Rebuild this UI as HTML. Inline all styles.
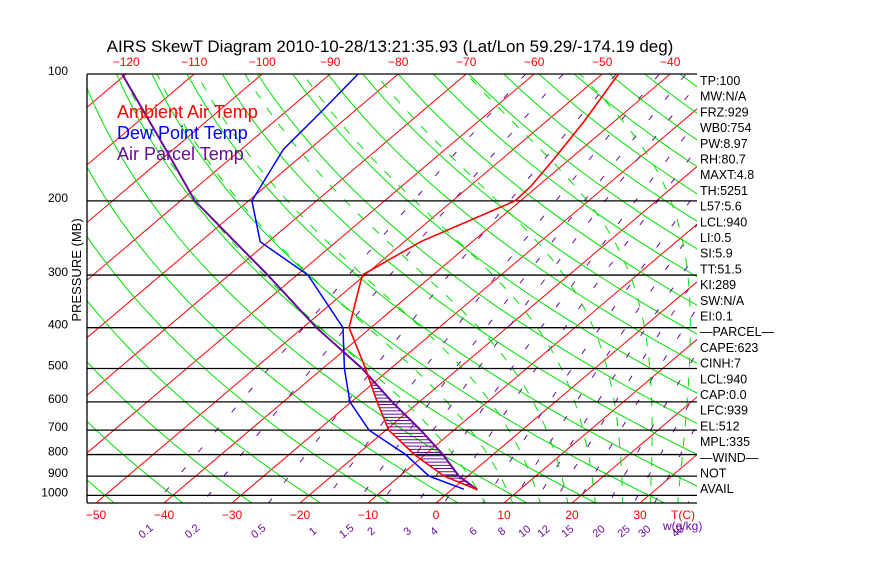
<!DOCTYPE html>
<html><head><meta charset="utf-8"><style>
body{margin:0;background:#fff;}
svg text{font-family:"Liberation Sans",sans-serif;}
</style></head><body>
<svg id="c" width="870" height="560" xmlns="http://www.w3.org/2000/svg">
<defs><clipPath id="pc"><rect x="87" y="74" width="610" height="429"/></clipPath></defs>
<rect width="870" height="560" fill="#fff"/>
<text x="390" y="52" font-size="17" text-anchor="middle">AIRS SkewT Diagram 2010-10-28/13:21:35.93 (Lat/Lon 59.29/-174.19 deg)</text>
<g id="bg" clip-path="url(#pc)"></g>
<g id="axes"></g>
<g id="series" clip-path="url(#pc)"></g>
<g id="labels"></g>
<text x="117" y="118" font-size="18" fill="#ff0000">Ambient Air Temp</text>
<text x="117" y="139" font-size="18" fill="#0000ff">Dew Point Temp</text>
<text x="117" y="160" font-size="18" fill="#6a0a9a">Air Parcel Temp</text>
<text transform="translate(81,270) rotate(-90)" font-size="13" text-anchor="middle">PRESSURE (MB)</text>
</svg>
<script>
// ---- data ----
const tempP = [100,130,160,185,200,250,300,400,500,600,700,800,900,970];
const tempT = [-47.6,-44.4,-42.3,-41.0,-40.8,-47.6,-50.4,-43.2,-33.7,-26.2,-19.6,-11.6,-3.5,3.8];
const dewP = [100,122,151,200,250,300,400,500,600,700,800,900,967];
const dewT = [-85.9,-84.8,-83.8,-79.5,-71.2,-58.4,-44.1,-36.8,-30.2,-22.5,-12.9,-5.7,1.7];
const parcelP = [100,151,200,300,400,500,600,700,800,900,970];
const parcelT = [-120.6,-101.1,-87.9,-64.3,-48.0,-34.2,-24.0,-14.9,-7.4,-1.3,3.8];
const pressureTicks = [100,200,300,400,500,600,700,800,900,1000];
const bottomTempTicks = [-50,-40,-30,-20,-10,0,10,20,30];
const topTempTicks = [-120,-110,-100,-90,-80,-70,-60,-50,-40];
const mixRatios = [0.1,0.2,0.5,1,1.5,2,3,4,6,8,10,12,15,20,25,30,40];
const mixLabels = ["0.1","0.2","0.5","1","1.5","2","3","4","6","8","10","12","15","20","25","30","40"];
const sideLabels = ["TP:100","MW:N/A","FRZ:929","WB0:754","PW:8.97","RH:80.7","MAXT:4.8","TH:5251","L57:5.6","LCL:940","LI:0.5","SI:5.9","TT:51.5","KI:289","SW:N/A","EI:0.1","\u2014PARCEL\u2014","CAPE:623","CINH:7","LCL:940","CAP:0.0","LFC:939","EL:512","MPL:335","\u2014WIND\u2014"," NOT","AVAIL"];
// ---- axis functions ----
const X0=87,X1=697,Y0=74,Y1=503;
function yP(p){return 74+183*Math.log(p/100);}
function xT(T,y){return 436+6.8*T+1.18*(503-y);}
function pt(T,p){const y=yP(p);return [xT(T,y),y];}
const NS="http://www.w3.org/2000/svg";
function mk(tag,attrs,parent){const e=document.createElementNS(NS,tag);for(const k in attrs)e.setAttribute(k,attrs[k]);parent.appendChild(e);return e;}
const bg=document.getElementById('bg'),axes=document.getElementById('axes'),ser=document.getElementById('series'),lab=document.getElementById('labels');
const pList=[];for(let p=90;p<=1060;p+=10)pList.push(p);
function poly(pts,stroke,w,dash,parent,name){
  const e=mk('polyline',{points:pts.map(a=>a[0].toFixed(1)+','+a[1].toFixed(1)).join(' '),fill:'none',stroke:stroke,'stroke-width':w},parent);
  if(dash)e.setAttribute('stroke-dasharray',dash);
  
  
  return e;}
// isotherms
for(let T=-170;T<=50;T+=10){poly([pt(T,90),pt(T,1060)],'#ff0000',1,null,bg,'isotherm');}
// dry adiabats
for(let th=173.15;th<=523.15;th+=10){poly(pList.map(p=>pt(th*Math.pow(p/1000,0.286)-273.15,p)),'#00e000',1,null,bg,'dry-adiabat');}
// mixing ratio lines
function tdFromW(w,p){const e=w*p/(622+w);const l=Math.log(e/6.112);return 243.5*l/(17.67-l);}
mixRatios.forEach(w=>{poly(pList.map(p=>pt(tdFromW(w,p),p)),'#6a0a9a',1,'6 20',bg,'mixing-ratio-line');});
// moist adiabats
function es(T){return 6.112*Math.exp(17.67*T/(T+243.5));}
function moist(T0){const out=[];let T=T0;for(let p=1060;p>=100;p-=5){out.push(pt(T,p));const Tk=T+273.15,ws=0.622*es(T)/(p-es(T));const L=2.5e6,Rd=287,cp=1004;
 const dTdp=(Rd*Tk+L*ws)/(p*(cp+L*L*ws*0.622/(Rd*Tk*Tk)));T-=dTdp*5;}return out;}
for(let T=8;T<=44;T+=4){poly(moist(T),'#00e000',1,'9 11',bg,'moist-adiabat');}
// pressure lines and labels
pressureTicks.forEach(p=>{const y=yP(p);
  const l=mk('line',{x1:X0,x2:X1,y1:y,y2:y,stroke:'#000','stroke-width':1.3},axes);
  
  const t=mk('text',{x:68,y:y+1,'font-size':12,'text-anchor':'end'},lab);t.textContent=p;
  });
let b=mk('line',{x1:X0,x2:X1,y1:Y1,y2:Y1,stroke:'#000','stroke-width':1.3},axes);

b=mk('line',{x1:X0,x2:X0,y1:Y0,y2:Y1,stroke:'#000','stroke-width':1.3},axes);

bottomTempTicks.forEach(T=>{const t=mk('text',{x:xT(T,Y1),y:519,'font-size':12,fill:'#ff0000','text-anchor':'middle'},lab);t.textContent=T<0?'\u2212'+(-T):T;
  });
topTempTicks.forEach(T=>{const t=mk('text',{x:xT(T,Y0),y:66,'font-size':12,fill:'#ff0000','text-anchor':'middle'},lab);t.textContent=T<0?'\u2212'+(-T):T;
  });
let tc=mk('text',{x:683,y:519,'font-size':12,fill:'#ff0000','text-anchor':'middle'},lab);tc.textContent='T(C)';

mixRatios.forEach((w,i)=>{const x=xT(tdFromW(w,1045),Y1)-8;const t=mk('text',{transform:`translate(${x.toFixed(1)},534) rotate(-40)`,'font-size':11,fill:'#6a0a9a','text-anchor':'middle'},lab);t.textContent=mixLabels[i];
  });
let wl=mk('text',{x:663,y:530,'font-size':12,fill:'#6a0a9a'},lab);wl.textContent='w(g/kg)';

sideLabels.forEach((s,i)=>{const t=mk('text',{x:700,y:85+i*15.7,'font-size':12.5,'xml:space':'preserve'},lab);t.textContent=s;
  });
// hatch between parcel and temp (parcel warmer)
function xAt(P,Tv,y){for(let i=0;i<P.length-1;i++){const a=pt(Tv[i],P[i]),c=pt(Tv[i+1],P[i+1]);if(y>=a[1]&&y<=c[1]){const f=(y-a[1])/(c[1]-a[1]||1);return a[0]+f*(c[0]-a[0]);}}return null;}
for(let y=yP(500)+4;y<yP(970);y+=3.2){const xa=xAt(tempP,tempT,y),xb=xAt(parcelP,parcelT,y);if(xa!==null&&xb!==null&&xb>xa){
  const h=mk('line',{x1:xa,x2:xb,y1:y,y2:y,stroke:'#6a0a9a','stroke-width':1},ser);}}
poly(parcelP.map((p,i)=>pt(parcelT[i],p)),'#6a0a9a',2,null,ser,'air-parcel-temp-line');
poly(dewP.map((p,i)=>pt(dewT[i],p)),'#0000ff',1.5,null,ser,'dew-point-temp-line');
poly(tempP.map((p,i)=>pt(tempT[i],p)),'#ff0000',1.6,null,ser,'ambient-air-temp-line');
</script>
</body></html>
